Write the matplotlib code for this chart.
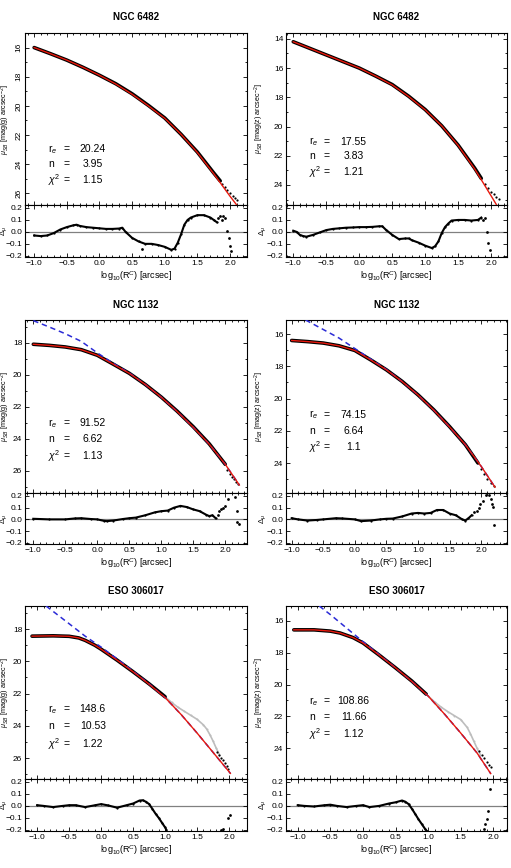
import matplotlib
matplotlib.use("Agg")
import matplotlib.pyplot as plt
from matplotlib.ticker import MultipleLocator

plt.rcParams['font.family'] = ['Liberation Sans', 'DejaVu Sans']
plt.rcParams['mathtext.fontset'] = 'custom'
plt.rcParams['mathtext.rm'] = 'Liberation Sans'
plt.rcParams['mathtext.it'] = 'Liberation Sans:italic'
plt.rcParams['mathtext.bf'] = 'Liberation Sans:bold'

# ---------------- NGC 6482, g band ----------------
n6482g_mod_x = [-1.0, -0.75, -0.5, -0.25, 0.0, 0.25, 0.5, 0.75, 1.0, 1.25, 1.5, 1.75, 2.0, 2.12]
n6482g_mod = [16.0, 16.42, 16.86, 17.36, 17.9, 18.5, 19.2, 20.0, 20.85, 21.95, 23.2, 24.65, 26.2, 26.9]
n6482g_dat_x = [-1.0, -0.75, -0.5, -0.25, 0.0, 0.25, 0.5, 0.75, 1.0, 1.25, 1.5, 1.75, 1.85]
n6482g_dat = [16.0, 16.42, 16.86, 17.36, 17.9, 18.48, 19.17, 19.97, 20.83, 21.95, 23.17, 24.6, 25.15]
n6482g_tail_x = [1.88, 1.92, 1.96, 2.0, 2.04, 2.08, 2.11]
n6482g_tail = [25.35, 25.55, 25.8, 26.0, 26.15, 26.3, 26.45]
n6482g_res_x = [-1.0, -0.9, -0.8, -0.7, -0.6, -0.5, -0.4, -0.35, -0.3, -0.2, -0.1, 0.0, 0.1, 0.2,
                0.3, 0.35, 0.4, 0.5, 0.6, 0.7, 0.8, 0.9, 1.0, 1.1, 1.15, 1.2, 1.25, 1.3, 1.35,
                1.4, 1.5, 1.6, 1.7, 1.75, 1.8]
n6482g_res = [-0.03, -0.035, -0.03, -0.01, 0.02, 0.04, 0.055, 0.06, 0.05, 0.04, 0.035, 0.03, 0.025,
              0.025, 0.028, 0.035, 0.0, -0.05, -0.08, -0.1, -0.1, -0.11, -0.125, -0.15, -0.14,
              -0.09, -0.02, 0.06, 0.1, 0.12, 0.14, 0.14, 0.12, 0.1, 0.08]
n6482g_rpt_x = [0.65, 1.82, 1.85, 1.88, 1.9, 1.93, 1.96, 1.98, 2.0, 2.01]
n6482g_rpt = [-0.14, 0.12, 0.13, 0.1, 0.13, 0.12, 0.01, -0.05, -0.12, -0.16]

# ---------------- NGC 6482, z band ----------------
n6482z_mod_x = [-1.0, -0.75, -0.5, -0.25, 0.0, 0.25, 0.5, 0.75, 1.0, 1.25, 1.5, 1.75, 2.0, 2.1]
n6482z_mod = [14.2, 14.65, 15.1, 15.55, 16.0, 16.55, 17.15, 17.95, 18.86, 19.95, 21.3, 22.9, 24.75, 25.5]
n6482z_dat_x = [-1.0, -0.75, -0.5, -0.25, 0.0, 0.25, 0.5, 0.75, 1.0, 1.25, 1.5, 1.75, 1.85]
n6482z_dat = [14.2, 14.65, 15.1, 15.55, 16.0, 16.55, 17.13, 17.93, 18.84, 19.95, 21.28, 22.85, 23.55]
n6482z_tail_x = [1.9, 1.95, 2.0, 2.04, 2.08, 2.12]
n6482z_tail = [23.95, 24.2, 24.45, 24.65, 24.85, 24.95]
n6482z_res_x = [-1.0, -0.95, -0.9, -0.85, -0.8, -0.7, -0.6, -0.5, -0.4, -0.3, -0.2, -0.1, 0.0, 0.1,
                0.2, 0.3, 0.35, 0.4, 0.5, 0.6, 0.7, 0.75, 0.8, 0.9, 1.0, 1.1, 1.15, 1.2, 1.25,
                1.3, 1.35, 1.4, 1.5, 1.6, 1.7, 1.8, 1.85]
n6482z_res = [0.01, 0.0, -0.025, -0.035, -0.04, -0.025, -0.005, 0.015, 0.025, 0.03, 0.035, 0.037,
              0.04, 0.04, 0.042, 0.047, 0.047, 0.02, -0.025, -0.06, -0.055, -0.055, -0.07, -0.09,
              -0.115, -0.135, -0.12, -0.08, -0.01, 0.04, 0.07, 0.095, 0.1, 0.1, 0.095, 0.1, 0.12]
n6482z_rpt_x = [1.88, 1.9, 1.93, 1.95, 1.98]
n6482z_rpt = [0.1, 0.12, 0.0, -0.09, -0.155]

# ---------------- NGC 1132, g band ----------------
n1132g_mod_x = [-1.0, -0.75, -0.5, -0.25, 0.0, 0.25, 0.5, 0.75, 1.0, 1.25, 1.5, 1.75, 2.0, 2.22]
n1132g_mod = [18.08, 18.15, 18.25, 18.42, 18.77, 19.33, 19.9, 20.6, 21.4, 22.3, 23.28, 24.34, 25.6, 26.9]
n1132g_ser_x = [-1.0, -0.75, -0.5, -0.25, 0.0, 0.25, 0.5, 0.75, 1.0, 1.25, 1.5, 1.75, 2.0, 2.22]
n1132g_ser = [16.6, 17.0, 17.42, 17.9, 18.62, 19.28, 19.88, 20.6, 21.4, 22.3, 23.28, 24.34, 25.6, 26.9]
n1132g_dat_x = [-1.0, -0.75, -0.5, -0.25, 0.0, 0.25, 0.5, 0.75, 1.0, 1.25, 1.5, 1.75, 2.0]
n1132g_dat = [18.08, 18.15, 18.25, 18.42, 18.77, 19.33, 19.9, 20.6, 21.39, 22.28, 23.25, 24.32, 25.6]
n1132g_tail_x = [2.03, 2.07, 2.1, 2.13, 2.17, 2.2]
n1132g_tail = [25.95, 26.2, 26.38, 26.55, 26.7, 26.85]
n1132g_res_x = [-1.0, -0.75, -0.5, -0.35, -0.25, -0.1, 0.0, 0.1, 0.15, 0.25, 0.4, 0.5, 0.6, 0.75,
                0.9, 1.0, 1.1, 1.2, 1.3, 1.4, 1.5, 1.6, 1.7, 1.75, 1.8, 1.85]
n1132g_res = [0.005, 0.0, 0.0, 0.008, 0.01, 0.003, 0.0, -0.012, -0.015, -0.01, 0.003, 0.01, 0.015,
              0.035, 0.06, 0.07, 0.075, 0.1, 0.115, 0.105, 0.085, 0.07, 0.04, 0.028, 0.035, 0.01]
n1132g_rpt_x = [1.88, 1.91, 1.94, 1.97, 2.0, 2.05, 2.15, 2.18, 2.19, 2.21]
n1132g_rpt = [0.04, 0.07, 0.09, 0.1, 0.11, 0.17, 0.19, 0.075, -0.025, -0.04]

# ---------------- NGC 1132, z band ----------------
n1132z_mod_x = [-1.0, -0.75, -0.5, -0.25, 0.0, 0.25, 0.5, 0.75, 1.0, 1.25, 1.5, 1.75, 2.0, 2.22]
n1132z_mod = [16.4, 16.47, 16.56, 16.73, 17.02, 17.6, 18.22, 18.95, 19.78, 20.72, 21.76, 22.86, 24.2, 25.5]
n1132z_ser_x = [-0.78, -0.5, -0.25, 0.0, 0.25, 0.5, 0.75, 1.0, 1.25, 1.5, 1.75, 2.0, 2.22]
n1132z_ser = [15.13, 15.72, 16.25, 16.9, 17.55, 18.2, 18.95, 19.78, 20.72, 21.76, 22.86, 24.2, 25.5]
n1132z_dat_x = [-1.0, -0.75, -0.5, -0.25, 0.0, 0.25, 0.5, 0.75, 1.0, 1.25, 1.5, 1.75, 1.95]
n1132z_dat = [16.4, 16.47, 16.56, 16.73, 17.02, 17.6, 18.22, 18.94, 19.77, 20.7, 21.74, 22.86, 24.0]
n1132z_tail_x = [2.0, 2.05, 2.1, 2.15, 2.2]
n1132z_tail = [24.35, 24.7, 25.0, 25.22, 25.45]
n1132z_res_x = [-1.0, -0.9, -0.75, -0.6, -0.5, -0.3, -0.2, 0.0, 0.1, 0.25, 0.4, 0.5, 0.6, 0.75,
                0.9, 1.0, 1.1, 1.2, 1.3, 1.4, 1.5, 1.6, 1.7, 1.75, 1.8, 1.85]
n1132z_res = [0.01, 0.0, -0.01, -0.005, 0.0, 0.01, 0.008, 0.0, -0.015, -0.01, 0.0, 0.005, 0.007,
              0.025, 0.05, 0.055, 0.05, 0.055, 0.08, 0.08, 0.05, 0.035, 0.0, -0.01, 0.01, 0.035]
n1132z_rpt_x = [1.89, 1.93, 1.96, 1.99, 2.03, 2.07, 2.12, 2.15, 2.18, 2.19, 2.2]
n1132z_rpt = [0.06, 0.075, 0.1, 0.13, 0.16, 0.21, 0.21, 0.17, 0.13, 0.105, -0.05]

# ---------------- ESO 306017, g band ----------------
e306g_mod_x = [-1.08, -0.75, -0.5, -0.35, -0.25, -0.1, 0.0, 0.25, 0.5, 0.75, 1.0, 1.25, 1.5, 1.75, 2.0, 2.02]
e306g_mod = [18.44, 18.42, 18.45, 18.55, 18.7, 19.0, 19.25, 19.93, 20.65, 21.42, 22.25, 23.3, 24.45, 25.65, 26.85, 26.95]
e306g_ser_x = [-0.86, -0.5, -0.25, 0.0, 0.25, 0.5, 0.75, 1.0, 1.25, 1.5, 1.75, 2.0, 2.02]
e306g_ser = [16.57, 17.67, 18.44, 19.12, 19.85, 20.62, 21.4, 22.25, 23.3, 24.45, 25.65, 26.85, 26.95]
e306g_dat_x = [-1.08, -0.75, -0.5, -0.35, -0.25, -0.1, 0.0, 0.25, 0.5, 0.75, 1.0]
e306g_dat = [18.44, 18.42, 18.45, 18.55, 18.7, 19.0, 19.25, 19.93, 20.65, 21.4, 22.2]
e306g_gray_x = [1.0, 1.1, 1.2, 1.3, 1.4, 1.5, 1.6, 1.65, 1.7, 1.75, 1.8, 1.85]
e306g_gray = [22.2, 22.55, 22.85, 23.1, 23.35, 23.6, 23.95, 24.2, 24.55, 24.95, 25.4, 25.8]
e306g_tail_x = [1.81, 1.84, 1.87, 1.9, 1.93, 1.96, 1.99]
e306g_tail = [25.6, 25.8, 25.98, 26.15, 26.32, 26.5, 26.7]
e306g_res_x = [-1.0, -0.9, -0.75, -0.6, -0.5, -0.4, -0.25, -0.1, 0.0, 0.1, 0.25, 0.4, 0.5, 0.6,
               0.65, 0.7, 0.75, 0.8, 0.85, 0.9, 0.95, 1.0, 1.02]
e306g_res = [0.006, 0.0, -0.01, 0.0, 0.006, 0.006, -0.01, 0.005, 0.015, 0.005, -0.015, 0.006, 0.02,
             0.045, 0.047, 0.035, 0.015, -0.024, -0.065, -0.1, -0.14, -0.18, -0.2]
e306g_rpt_x = [1.88, 1.91, 1.98, 2.01]
e306g_rpt = [-0.2, -0.195, -0.1, -0.08]

# ---------------- ESO 306017, z band ----------------
e306z_mod_x = [-1.06, -0.75, -0.5, -0.35, -0.15, 0.0, 0.25, 0.5, 0.75, 1.0, 1.25, 1.5, 1.75, 1.96]
e306z_mod = [16.56, 16.56, 16.64, 16.76, 17.05, 17.38, 18.15, 18.95, 19.8, 20.72, 21.85, 23.05, 24.3, 25.6]
e306z_ser_x = [-0.67, -0.5, -0.25, 0.0, 0.25, 0.5, 0.75, 1.0, 1.25, 1.5, 1.75, 1.96]
e306z_ser = [15.06, 15.6, 16.45, 17.3, 18.12, 18.95, 19.8, 20.72, 21.85, 23.05, 24.3, 25.6]
e306z_dat_x = [-1.06, -0.75, -0.5, -0.35, -0.15, 0.0, 0.25, 0.5, 0.75, 0.97]
e306z_dat = [16.56, 16.56, 16.64, 16.76, 17.05, 17.38, 18.15, 18.95, 19.78, 20.6]
e306z_gray_x = [0.97, 1.1, 1.2, 1.3, 1.4, 1.5, 1.6, 1.65, 1.7, 1.75, 1.8]
e306z_gray = [20.6, 21.1, 21.42, 21.7, 21.95, 22.2, 22.7, 23.1, 23.55, 24.0, 24.4]
e306z_tail_x = [1.78, 1.82, 1.86, 1.9, 1.93, 1.96]
e306z_tail = [24.15, 24.4, 24.65, 24.9, 25.05, 25.2]
e306z_res_x = [-1.0, -0.9, -0.75, -0.6, -0.5, -0.4, -0.25, -0.1, 0.0, 0.1, 0.25, 0.4, 0.5, 0.6,
               0.65, 0.7, 0.75, 0.8, 0.85, 0.9, 0.95, 0.98]
e306z_res = [0.006, 0.0, -0.005, 0.005, 0.01, 0.0, -0.01, 0.0, 0.006, -0.01, 0.0, 0.02, 0.03, 0.045,
             0.035, 0.015, -0.023, -0.066, -0.11, -0.15, -0.19, -0.21]
e306z_rpt_x = [1.85, 1.87, 1.9, 1.92, 1.95]
e306z_rpt = [-0.19, -0.15, -0.11, -0.04, 0.14]

titles = ["NGC 6482", "NGC 6482", "NGC 1132", "NGC 1132", "ESO 306017", "ESO 306017"]
bands = ["g", "z", "g", "z", "g", "z"]
r_e = ["20.24", "17.55", "91.52", "74.15", "148.6", "108.86"]
n_ser = ["3.95", "3.83", "6.62", "6.64", "10.53", "11.66"]
chi2 = ["1.15", "1.21", "1.13", "1.1", "1.22", "1.12"]

W, H = 511, 868
fig = plt.figure(figsize=(W / 100, H / 100), dpi=100)

# layout in pixels: (left, width) per column and (top, split, bottom) per row
cols = [(25, 222), (286, 221)]
rows = [(33, 205, 257), (320, 493, 544), (606, 779, 831)]
xlims = [(-1.14, 2.26), (-1.11, 2.24), (-1.13, 2.34), (-1.09, 2.41), (-1.19, 2.28), (-1.18, 2.21)]
ylims = [(26.8, 15.0), (25.37, 13.6), (27.4, 16.56), (25.86, 15.13), (27.3, 16.57), (25.94, 15.06)]
text_y = [(0.324, 0.238, 0.145), (0.368, 0.285, 0.194), (0.403, 0.312, 0.216),
          (0.451, 0.358, 0.268), (0.403, 0.306, 0.202), (0.45, 0.36, 0.259)]

panels = [
    (n6482g_mod_x, n6482g_mod, None, None, n6482g_dat_x, n6482g_dat, None, None,
     n6482g_tail_x, n6482g_tail, n6482g_res_x, n6482g_res, n6482g_rpt_x, n6482g_rpt),
    (n6482z_mod_x, n6482z_mod, None, None, n6482z_dat_x, n6482z_dat, None, None,
     n6482z_tail_x, n6482z_tail, n6482z_res_x, n6482z_res, n6482z_rpt_x, n6482z_rpt),
    (n1132g_mod_x, n1132g_mod, n1132g_ser_x, n1132g_ser, n1132g_dat_x, n1132g_dat, None, None,
     n1132g_tail_x, n1132g_tail, n1132g_res_x, n1132g_res, n1132g_rpt_x, n1132g_rpt),
    (n1132z_mod_x, n1132z_mod, n1132z_ser_x, n1132z_ser, n1132z_dat_x, n1132z_dat, None, None,
     n1132z_tail_x, n1132z_tail, n1132z_res_x, n1132z_res, n1132z_rpt_x, n1132z_rpt),
    (e306g_mod_x, e306g_mod, e306g_ser_x, e306g_ser, e306g_dat_x, e306g_dat, e306g_gray_x, e306g_gray,
     e306g_tail_x, e306g_tail, e306g_res_x, e306g_res, e306g_rpt_x, e306g_rpt),
    (e306z_mod_x, e306z_mod, e306z_ser_x, e306z_ser, e306z_dat_x, e306z_dat, e306z_gray_x, e306z_gray,
     e306z_tail_x, e306z_tail, e306z_res_x, e306z_res, e306z_rpt_x, e306z_rpt),
]


def style_ticks(ax):
    ax.tick_params(which="both", direction="in", top=True, right=True, width=0.6,
                   labelsize=6, pad=2)
    ax.tick_params(which="major", length=3)
    ax.tick_params(which="minor", length=1.6)
    ax.xaxis.set_major_locator(MultipleLocator(0.5))
    ax.xaxis.set_minor_locator(MultipleLocator(0.1))
    for sp in ax.spines.values():
        sp.set_linewidth(0.8)


for i, p in enumerate(panels):
    (mx, my, sx, sy, dx, dy, gx, gy, tx, ty, rx, ry, qx, qy) = p
    cl, cw = cols[i % 2]
    top, mid, bot = rows[i // 2]
    axm = fig.add_axes([cl / W, 1 - mid / H, cw / W, (mid - top) / H])
    axr = fig.add_axes([cl / W, 1 - bot / H, cw / W, (bot - mid) / H], sharex=axm)

    # profile panel
    axm.plot(dx, dy, color="black", lw=2.6, solid_capstyle="round", zorder=2)
    axm.plot(tx, ty, "o", color="black", ms=1.6, mew=0, zorder=2)
    if gx is not None:
        axm.plot(gx, gy, "o-", color="#bdbdbd", lw=1.2, ms=1.4, mew=0, zorder=1)
    if sx is not None:
        axm.plot(sx, sy, color="#2b2bd6", lw=1.1, dashes=(3.5, 2.5), zorder=3)
    axm.plot(mx, my, color="#e8180c", lw=1.0, zorder=4)
    axm.set_xlim(*xlims[i])
    axm.set_ylim(*ylims[i])
    style_ticks(axm)
    axm.yaxis.set_major_locator(MultipleLocator(2))
    axm.yaxis.set_minor_locator(MultipleLocator(1))
    axm.tick_params(labelbottom=False)
    if i == 0:
        for lab in axm.get_yticklabels():
            lab.set_rotation(90)
            lab.set_va("center")
    axm.set_ylabel(r"$\mu_{SB}$ [mag(" + bands[i] + r") arcsec$^{-2}$]", fontsize=5.2)
    axm.yaxis.set_label_coords(-0.06 if i % 2 == 0 else -0.09, 0.5)
    axm.set_title(titles[i], fontsize=7, fontweight="bold", pad=9)

    ty0, ty1, ty2 = text_y[i]
    for lab, val, yy in [(r"r$_e$", r_e[i], ty0), ("n", n_ser[i], ty1), (r"$\chi^2$", chi2[i], ty2)]:
        axm.text(0.105, yy, lab, transform=axm.transAxes, fontsize=7.5, ha="left", va="center")
        axm.text(0.185, yy, "=", transform=axm.transAxes, fontsize=7.5, ha="center", va="center")
        axm.text(0.305, yy, val, transform=axm.transAxes, fontsize=7.5, ha="center", va="center")

    # residual panel
    axr.axhline(0, color="#808080", lw=0.9, zorder=1)
    axr.plot(rx, ry, "o-", color="black", lw=1.5, ms=1.6, mew=0, zorder=2)
    axr.plot(qx, qy, "o", color="black", ms=2.0, mew=0, zorder=2)
    axr.set_ylim(-0.21, 0.225)
    style_ticks(axr)
    axr.set_yticks([-0.2, -0.1, 0.0, 0.1, 0.2])
    axr.set_yticklabels(["\u22120.2", "\u22120.1", "0.0", "0.1", "0.2"])
    axr.set_ylabel(r"$\Delta_\mu$", fontsize=5.5)
    axr.yaxis.set_label_coords(-0.07 if i % 2 == 0 else -0.08, 0.5)
    axr.set_xlabel(r"log$_{10}$(R$^{C}$) [arcsec]", fontsize=6.5, labelpad=2)

fig.savefig("out.png", dpi=100)
